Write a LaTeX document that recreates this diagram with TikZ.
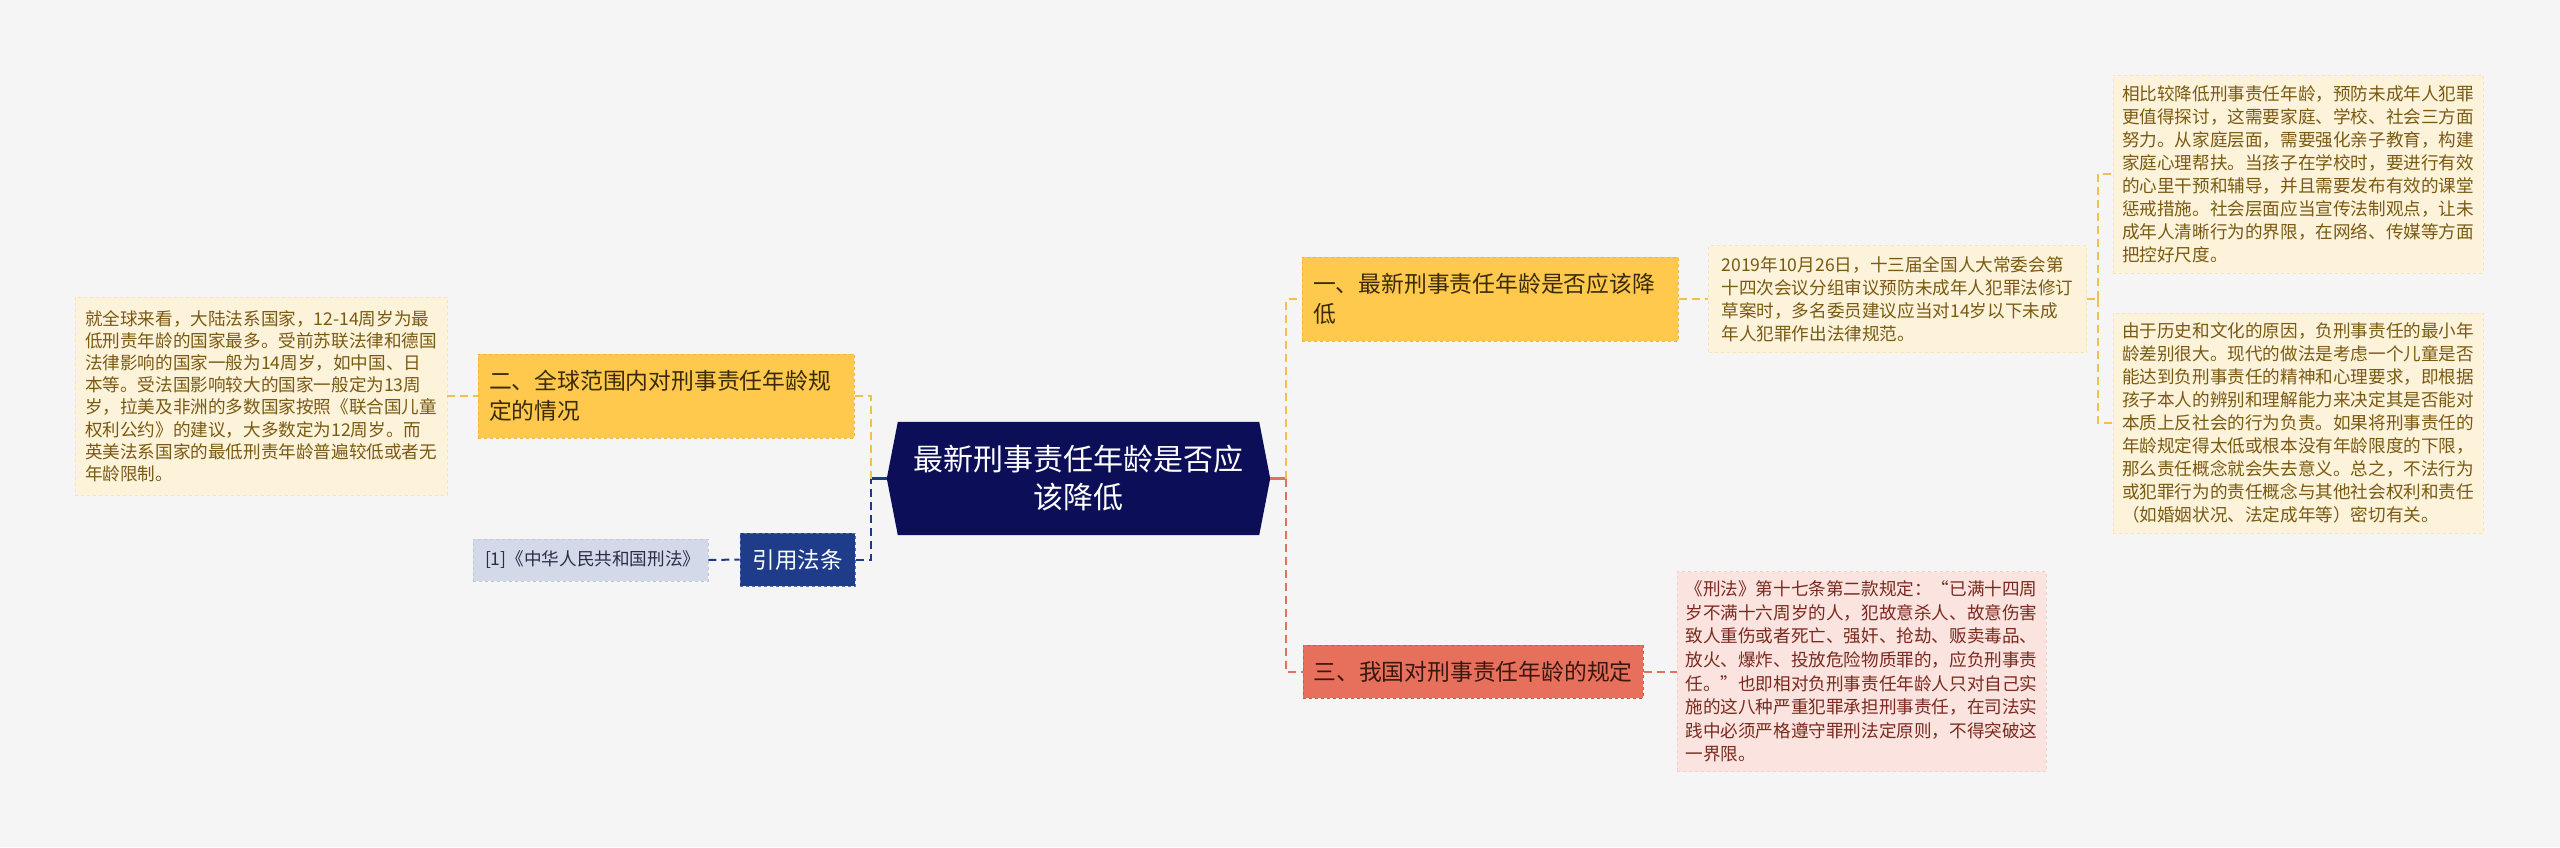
\documentclass[tikz,border=0pt]{standalone}
\usepackage{fontspec}
\setmainfont{Noto Sans CJK SC}
\usepackage{xcolor}
\usetikzlibrary{backgrounds}

\definecolor{bgc}{HTML}{F5F5F5}
\definecolor{rootc}{HTML}{0C0E58}
\definecolor{yelc}{HTML}{FFC94D}
\definecolor{yeld}{HTML}{EBB53F}
\definecolor{yelt}{HTML}{3A2A06}
\definecolor{yelk}{HTML}{F2C04C}
\definecolor{creamc}{HTML}{FDF3DB}
\definecolor{creamd}{HTML}{F6E3B6}
\definecolor{goldt}{HTML}{7A5A12}
\definecolor{refc}{HTML}{1F3C8A}
\definecolor{refd}{HTML}{5A72B0}
\definecolor{navk}{HTML}{1D3A85}
\definecolor{lavc}{HTML}{D4D9EA}
\definecolor{lavd}{HTML}{BFC6DE}
\definecolor{lavt}{HTML}{2C2C48}
\definecolor{redc}{HTML}{E6705B}
\definecolor{redd}{HTML}{CF5A46}
\definecolor{redt}{HTML}{3A1610}
\definecolor{redk}{HTML}{E07262}
\definecolor{pinkc}{HTML}{FBE3DF}
\definecolor{pinkd}{HTML}{F2CFC8}
\definecolor{pinkt}{HTML}{7A2A1E}

\begin{document}
\begin{tikzpicture}[x=1pt, y=-1pt,
  rootnode/.style={minimum width=383pt, minimum height=113pt, inner sep=0pt,
                   text=white, align=center, font=\fontsize{30}{38}\selectfont},
  topic/.style={dashed, line width=1pt, align=left, inner ysep=0pt,
                font=\fontsize{22.8}{30}\selectfont},
  leaf/.style={dashed, line width=0.8pt, align=left, inner ysep=0pt,
               text width=352pt, font=\fontsize{17.6}{23}\selectfont},
  link/.style={dash pattern=on 8pt off 5pt, line width=2pt},
  stub/.style={line width=2.5pt},
]
\node[rootnode] (root) at (1078.5,478.5) {最新刑事责任年龄是否应\\该降低};

\node[topic, fill=yelc, draw=yeld, text=yelt, text width=354pt, inner xsep=11pt,
      minimum height=84pt] (b1) at (1490,299) {一、最新刑事责任年龄是否应该降\\低};
\node[topic, fill=yelc, draw=yeld, text=yelt, text width=354pt, inner xsep=11pt,
      minimum height=84pt] (b2) at (666,396) {二、全球范围内对刑事责任年龄规\\定的情况};
\node[topic, fill=redc, draw=redd, text=redt, text width=319pt, inner xsep=10.5pt,
      minimum height=53pt] (b3) at (1473,671.5) {三、我国对刑事责任年龄的规定};
\node[topic, fill=refc, draw=refd, text=white, align=center, inner xsep=0pt,
      minimum width=115pt, minimum height=53pt, font=\fontsize{22.5}{28}\selectfont]
  (ref) at (797.5,559.5) {引用法条};

\node[leaf, fill=creamc, draw=creamd, text=goldt, inner xsep=13pt, minimum height=107pt]
  (l1a) at (1897.5,299) {2019年10月26日，十三届全国人大常委会第\\十四次会议分组审议预防未成年人犯罪法修订\\草案时，多名委员建议应当对14岁以下未成\\年人犯罪作出法律规范。};
\node[leaf, fill=creamc, draw=creamd, text=goldt, inner xsep=9pt, minimum height=198pt]
  (l1b) at (2298,174) {相比较降低刑事责任年龄，预防未成年人犯罪\\更值得探讨，这需要家庭、学校、社会三方面\\努力。从家庭层面，需要强化亲子教育，构建\\家庭心理帮扶。当孩子在学校时，要进行有效\\的心里干预和辅导，并且需要发布有效的课堂\\惩戒措施。社会层面应当宣传法制观点，让未\\成年人清晰行为的界限，在网络、传媒等方面\\把控好尺度。};
\node[leaf, fill=creamc, draw=creamd, text=goldt, inner xsep=9pt, minimum height=220pt]
  (l1c) at (2298,423) {由于历史和文化的原因，负刑事责任的最小年\\龄差别很大。现代的做法是考虑一个儿童是否\\能达到负刑事责任的精神和心理要求，即根据\\孩子本人的辨别和理解能力来决定其是否能对\\本质上反社会的行为负责。如果将刑事责任的\\年龄规定得太低或根本没有年龄限度的下限，\\那么责任概念就会失去意义。总之，不法行为\\或犯罪行为的责任概念与其他社会权利和责任\\（如婚姻状况、法定成年等）密切有关。};
\node[leaf, fill=creamc, draw=creamd, text=goldt, inner xsep=10pt, minimum height=198pt,
      font=\fontsize{17.6}{22.2}\selectfont]
  (l2a) at (261,396) {就全球来看，大陆法系国家，12-14周岁为最\\低刑责年龄的国家最多。受前苏联法律和德国\\法律影响的国家一般为14周岁，如中国、日\\本等。受法国影响较大的国家一般定为13周\\岁，拉美及非洲的多数国家按照《联合国儿童\\权利公约》的建议，大多数定为12周岁。而\\英美法系国家的最低刑责年龄普遍较低或者无\\年龄限制。};
\node[leaf, fill=lavc, draw=lavd, text=lavt, text width=211pt, inner xsep=12pt,
      minimum height=42pt, font=\fontsize{17.6}{22}\selectfont]
  (refleaf) at (590.5,560) {[1]《中华人民共和国刑法》};
\node[leaf, fill=pinkc, draw=pinkd, text=pinkt, inner xsep=8.5pt, minimum height=200pt,
      font=\fontsize{17.6}{23.6}\selectfont]
  (l3a) at (1861.5,671.5) {《刑法》第十七条第二款规定：“已满十四周\\岁不满十六周岁的人，犯故意杀人、故意伤害\\致人重伤或者死亡、强奸、抢劫、贩卖毒品、\\放火、爆炸、投放危险物质罪的，应负刑事责\\任。”也即相对负刑事责任年龄人只对自己实\\施的这八种严重犯罪承担刑事责任，在司法实\\践中必须严格遵守罪刑法定原则，不得突破这\\一界限。};

\coordinate (spl) at (871,478.5);
\coordinate (spr) at (1286,478.5);
\coordinate (spk) at (2098,299);

\begin{pgfonlayer}{background}
  \fill[bgc] (0,0) rectangle (2560,847);
  \fill[rootc] (root.west) -- ([xshift=11pt]root.north west)
    -- ([xshift=-11pt]root.north east) -- (root.east)
    -- ([xshift=-11pt]root.south east) -- ([xshift=11pt]root.south west) -- cycle;
\end{pgfonlayer}

\draw[stub, navk] (root.west) -- (spl);
\draw[link, yelk] (b2.east) -| (spl);
\draw[link, navk] (ref.east) -| (spl);
\draw[stub, redk] (root.east) -- (spr);
\draw[link, yelk] (spr) |- (b1.west);
\draw[link, redk] (spr) |- (b3.west);
\draw[link, yelk] (b1.east) -- (l1a.west);
\draw[link, yelk] (l1a.east) -- (spk);
\draw[link, yelk] (spk) |- (l1b.west);
\draw[link, yelk] (spk) |- (l1c.west);
\draw[link, yelk] (l2a.east) -- (b2.west);
\draw[link, navk] (refleaf.east) -- (ref.west);
\draw[link, redk] (b3.east) -- (l3a.west);
\end{tikzpicture}
\end{document}
